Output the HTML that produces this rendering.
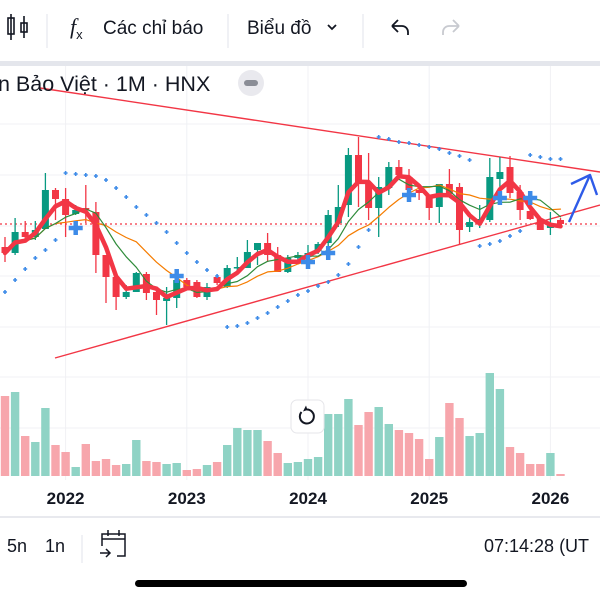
<!DOCTYPE html>
<html><head><meta charset="utf-8">
<style>
html,body{margin:0;padding:0;width:600px;height:600px;overflow:hidden;background:#fff;font-family:"Liberation Sans","Noto Sans CJK SC",sans-serif;}
svg{position:absolute;left:0;top:0}
</style></head>
<body>
<svg id="chart" width="600" height="600" viewBox="0 0 600 600">
  <g>
    <g stroke="#131722" stroke-width="1.6" fill="none">
      <line x1="11" y1="14" x2="11" y2="40"/><rect x="8" y="18" width="6" height="16"/>
      <line x1="24" y1="16" x2="24" y2="38"/><rect x="21" y="23" width="6" height="9"/>
    </g>
    <line x1="47" y1="14" x2="47" y2="48" stroke="#e0e3eb"/>
    <text x="70" y="34" font-size="22" font-style="italic" fill="#131722" font-family="Liberation Serif, serif">f<tspan font-size="13" dy="5" font-style="normal" font-family="Liberation Sans, sans-serif">x</tspan></text>
    <text x="103" y="34" font-size="19" fill="#131722">Các chỉ báo</text>
    <line x1="228" y1="14" x2="228" y2="48" stroke="#e0e3eb"/>
    <text x="247" y="34" font-size="19" fill="#131722">Biểu đồ</text>
    <path d="M328 25 l4 4 l4 -4" stroke="#131722" stroke-width="1.8" fill="none"/>
    <line x1="363" y1="14" x2="363" y2="48" stroke="#e0e3eb"/>
    <path d="M392 26 l6 -6 M392 26 l6 6 M392 26 h10 a6 6 0 0 1 6 6 v3" stroke="#131722" stroke-width="1.8" fill="none"/>
    <path d="M459 26 l-6 -6 M459 26 l-6 6 M459 26 h-10 a6 6 0 0 0 -6 6 v3" stroke="#c8cad0" stroke-width="1.8" fill="none"/>
    <rect x="0" y="61" width="600" height="5" fill="#e4e6ec"/>
  </g>
  <g id="grid"></g>
  <g id="lines"></g>
  <g id="vol"></g>
  <g id="candles"></g>
  <g id="mas"></g>
  <g id="sar"></g>
  <g id="marks"></g>
  <g>
    <text x="-2" y="91" font-size="21.5" fill="#131722">n Bảo Việt · 1M · HNX</text>
    <circle cx="251" cy="83" r="13" fill="#e9e9ee"/>
    <rect x="244" y="80" width="14" height="6" rx="3" fill="#8a8d96"/>
  </g>
  <g id="xaxis"></g>
  <g>
    <rect x="291" y="400" width="33" height="33" rx="6" fill="#fff" stroke="#e6e6ea"/>
    <path d="M301.5 412 a7 7 0 1 0 5 -2.5" stroke="#131722" stroke-width="2" fill="none"/>
    <path d="M306 405.5 l1.5 4.5 l-4.5 1.5 z" fill="#131722"/>
  </g>
  <g>
    <line x1="0" y1="517" x2="600" y2="517" stroke="#e8e9ee" stroke-width="2"/>
    <text x="7" y="552" font-size="18" fill="#131722">5n</text>
    <text x="45" y="552" font-size="18" fill="#131722">1n</text>
    <line x1="82" y1="535" x2="82" y2="563" stroke="#e0e3eb"/>
    <g stroke="#131722" stroke-width="1.5" fill="none">
      <path d="M102 546 v-12 h23 v22 h-8"/><line x1="102" y1="539" x2="125" y2="539"/>
      <line x1="108" y1="530" x2="108" y2="536"/><line x1="119" y1="530" x2="119" y2="536"/>
      <path d="M100 553 h10 M106 549 l4 4 l-4 4"/>
    </g>
    <text x="484" y="552" font-size="18" fill="#131722">07:14:28 (UT</text>
    <rect x="135" y="580" width="332" height="7" rx="3.5" fill="#000"/>
  </g>
</svg>
<script>
const opens  = [153,147,168,163,171,210,201,186,192,188,145,123,103,108,126,108,99,102,120,118,103,123,113,132,132,150,157,145,128,142,143,149,157,177,195,245,217,192,212,233,223,210,205,193,216,213,173,179,180,221,233,208,189,181,172,180];
const highs  = [163,182,179,179,227,212,212,195,215,198,145,125,115,128,128,110,113,128,122,120,117,125,135,143,160,157,167,153,145,148,155,158,190,215,252,263,247,223,238,240,231,215,205,216,231,217,185,195,242,243,244,215,198,181,188,182];
const lows   = [138,145,160,160,171,180,163,185,177,127,97,90,101,108,100,85,75,92,112,102,100,115,112,130,132,135,138,128,127,140,140,146,152,173,183,193,180,163,205,220,198,200,180,177,203,155,168,172,178,195,202,180,180,170,165,174];
const closes = [147,168,163,170,210,201,185,190,190,145,123,103,108,127,107,100,102,120,113,103,113,117,132,133,148,157,145,128,142,145,147,156,185,193,245,217,192,213,233,225,210,207,192,216,206,170,178,181,223,228,207,190,181,170,175,176];
const volumes = [80,84,40,34,68,31,24,9,32,15,17,11,12,36,15,14,12,13,6,7,11,14,31,48,46,46,35,23,13,14,17,19,62,62,77,51,64,69,52,46,43,37,17,39,73,58,40,43,103,87,29,23,12,12,23,2];
const sarValues = [108,120,131,142,150,160,227,226,225,224,220,212,203,193,185,177,168,157,147,138,130,124,73,74,77,82,87,93,99,105,109,114,118,125,136,153,170,263,261,258,257,255,253,251,247,244,240,154,156,159,164,169,245,243,241,241];
const signalIdx = [7,17,30,32,40,49,52];
const signalPrice = [172,124,138,147,205,202,202];
const yearLabels = ["2022","2023","2024","2025","2026"];
const yearIdx = [6,18,30,42,54];
const lastPrice = 176;

const NS="http://www.w3.org/2000/svg";
function mk(tag,attrs,parent){const e=document.createElementNS(NS,tag);for(const k in attrs)e.setAttribute(k,attrs[k]);parent.appendChild(e);return e;}
const xOf = i => 5 + i*10.1;
const yOf = p => 400 - p;
const volBase = 476;
const yVol = v => volBase - v;
const G="#089981", R="#f23645";

const grid=document.getElementById('grid');
[124,175,226,276,327,377,428].forEach(y=>{const l=mk('line',{x1:0,x2:600,y1:y,y2:y,stroke:'#f0f1f4'},grid);});
yearIdx.forEach(i=>{const x=xOf(i);const l=mk('line',{x1:x,x2:x,y1:66,y2:480,stroke:'#f0f1f4'},grid);});

const pl=mk('line',{x1:0,x2:600,y1:yOf(lastPrice),y2:yOf(lastPrice),stroke:R,'stroke-width':1.3,'stroke-dasharray':'2,3'},grid);



const vol=document.getElementById('vol');
volumes.forEach((v,i)=>{const up=closes[i]>=opens[i];
 const r=mk('rect',{x:xOf(i)-4.2,y:yVol(v),width:8.4,height:v,fill:up?'#8fd3c5':'#f7a6ac'},vol);
 
 });

const tl=document.getElementById('lines');
const t1=mk('line',{x1:40,y1:88,x2:600,y2:172,stroke:R,'stroke-width':1.4},tl);


const t2=mk('line',{x1:55,y1:358,x2:600,y2:205,stroke:R,'stroke-width':1.4},tl);


const ar=mk('path',{d:'M569 222 L590 175 M571 184 L590 175 L597 195',stroke:'#2e5be8','stroke-width':2.4,fill:'none','stroke-linejoin':'round'},tl);



const cg=document.getElementById('candles');
opens.forEach((o,i)=>{const c=closes[i];const up=c>=o;const col=up?G:R;const x=xOf(i);
 const w=mk('line',{x1:x,x2:x,y1:yOf(highs[i]),y2:yOf(lows[i]),stroke:col,'stroke-width':1.3},cg);
 
 
 const top=yOf(Math.max(o,c));const h=Math.max(1.5,Math.abs(o-c));
 const b=mk('rect',{x:x-3.5,y:top,width:7,height:h,fill:col},cg);
 
 });

function sma(n){return closes.map((_,i)=>{const s=Math.max(0,i-n+1);let t=0;for(let k=s;k<=i;k++)t+=closes[k];return t/(i-s+1);});}
const mg=document.getElementById('mas');
[[10,'#f57c00',1.2,'ma-orange'],[6,'#2e8b3a',1.2,'ma-green'],[3,R,4.5,'ma-red-thick']].forEach(([n,col,w,name])=>{
 const pts=sma(n).map((v,i)=>xOf(i).toFixed(1)+','+yOf(v).toFixed(1)).join(' ');
 const p=mk('polyline',{points:pts,fill:'none',stroke:col,'stroke-width':w,'stroke-linejoin':'round','stroke-linecap':'round'},mg);
 
 });

const sg=document.getElementById('sar');
sarValues.forEach((v,i)=>{const x=xOf(i),y=yOf(v);
 const p=mk('path',{d:`M${x-2} ${y}h4M${x} ${y-2}v4`,stroke:'#3d8be8','stroke-width':1.6},sg);
 
 });

const kg=document.getElementById('marks');
signalIdx.forEach((idx,k)=>{const x=xOf(idx),y=yOf(signalPrice[k]);
 const p=mk('path',{d:`M${x-7} ${y}h14M${x} ${y-7}v14`,stroke:'#3d8be8','stroke-width':4.5},kg);
 
 });

const xa=document.getElementById('xaxis');
yearLabels.forEach((t,k)=>{const e=mk('text',{x:xOf(yearIdx[k]),y:504,'text-anchor':'middle','font-size':17,'font-weight':'bold',fill:'#131722'},xa);
 e.textContent=t;
 
 });
</script>
</body></html>
